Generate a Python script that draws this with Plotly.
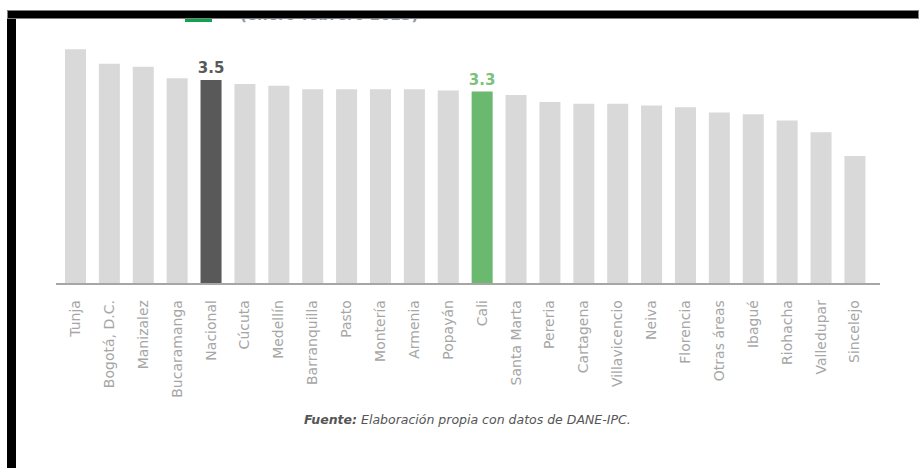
import plotly.graph_objects as go

ciudades = ["Tunja", "Bogotá, D.C.", "Manizalez", "Bucaramanga", "Nacional", "Cúcuta",
            "Medellín", "Barranquilla", "Pasto", "Montería", "Armenia", "Popayán", "Cali",
            "Santa Marta", "Pereria", "Cartagena", "Villavicencio", "Neiva", "Florencia",
            "Otras áreas", "Ibagué", "Riohacha", "Valledupar", "Sincelejo"]
valores = [4.03, 3.78, 3.73, 3.53, 3.5, 3.43, 3.40, 3.34, 3.34, 3.34, 3.34, 3.32, 3.3,
           3.24, 3.12, 3.09, 3.09, 3.06, 3.03, 2.94, 2.91, 2.80, 2.60, 2.19]
destacados = {"Nacional": ("#595959", "#595959", "3.5"), "Cali": ("#6ab96f", "#79c27c", "3.3")}

W, H = 919, 468
L, R, T, B = 56, 39, 30, 185
PW, PH = W - L - R, H - T - B

def px(x):
    return (x - L) / PW

def py(y):
    return (H - B - y) / PH

colores = [destacados[c][0] if c in destacados else "#d9d9d9" for c in ciudades]
textos = [destacados[c][2] if c in destacados else "" for c in ciudades]
tcol = [destacados[c][1] if c in destacados else "#595959" for c in ciudades]

fig = go.Figure(go.Bar(
    x=ciudades, y=valores, marker=dict(color=colores, line=dict(width=0)),
    width=0.62, text=textos, textposition="outside", cliponaxis=False, constraintext="none",
    textfont=dict(family="DejaVu Sans", size=15, color=tcol, weight="bold"),
    hoverinfo="skip",
))

fig.update_layout(
    width=W, height=H, margin=dict(l=L, r=R, t=T, b=B),
    paper_bgcolor="white", plot_bgcolor="white", showlegend=False,
    xaxis=dict(range=[-0.575, 23.74], tickangle=-90, showline=True, linecolor="#a6a6a6",
               linewidth=1.5, showgrid=False, ticks="", ticklabelstandoff=10,
               tickfont=dict(family="DejaVu Sans", size=14, color="#a6a6a6")),
    yaxis=dict(range=[0, PH / 58.0], visible=False),
)

# left black frame
fig.add_shape(type="rect", xref="paper", yref="paper", x0=px(7), x1=px(16), y0=py(468), y1=py(10),
              fillcolor="black", line=dict(width=0))
# green legend swatch (mostly hidden)
fig.add_shape(type="rect", xref="paper", yref="paper", x0=px(185), x1=px(212), y0=py(22), y1=py(12),
              fillcolor="#0aa550", line=dict(width=0))

# cut-off subtitle
fig.add_annotation(xref="paper", yref="paper", x=px(238), y=py(26), xanchor="left", yanchor="bottom",
                   text="(enero-febrero 2023)", showarrow=False,
                   font=dict(family="DejaVu Sans", size=15, color="#8a97a8", weight="bold"))
# white strip above the frame (hides the top of the subtitle)
fig.add_annotation(xref="paper", yref="paper", x=px(0), y=py(0), xanchor="left", yanchor="top",
                   text=" ", showarrow=False, width=919, height=10, bgcolor="white",
                   borderpad=0, borderwidth=0, font=dict(size=1))
# top black band (drawn above subtitle)
fig.add_annotation(xref="paper", yref="paper", x=px(7), y=py(10), xanchor="left", yanchor="top",
                   text=" ", showarrow=False, width=910, height=7, bgcolor="black",
                   bordercolor="#7f7f7f", borderwidth=1, borderpad=0, font=dict(size=1))

# source note
fig.add_annotation(xref="paper", yref="paper", x=px(467), y=py(419), xanchor="center", yanchor="middle",
                   text="<b><i>Fuente:</i></b><i> Elaboración propia con datos de DANE-IPC.</i>",
                   showarrow=False, font=dict(family="DejaVu Sans", size=12.5, color="#555555"))

fig.write_html("out.html", config={"displayModeBar": False, "staticPlot": True},
               post_script="document.body.style.margin='0';document.body.style.overflow='hidden';")
